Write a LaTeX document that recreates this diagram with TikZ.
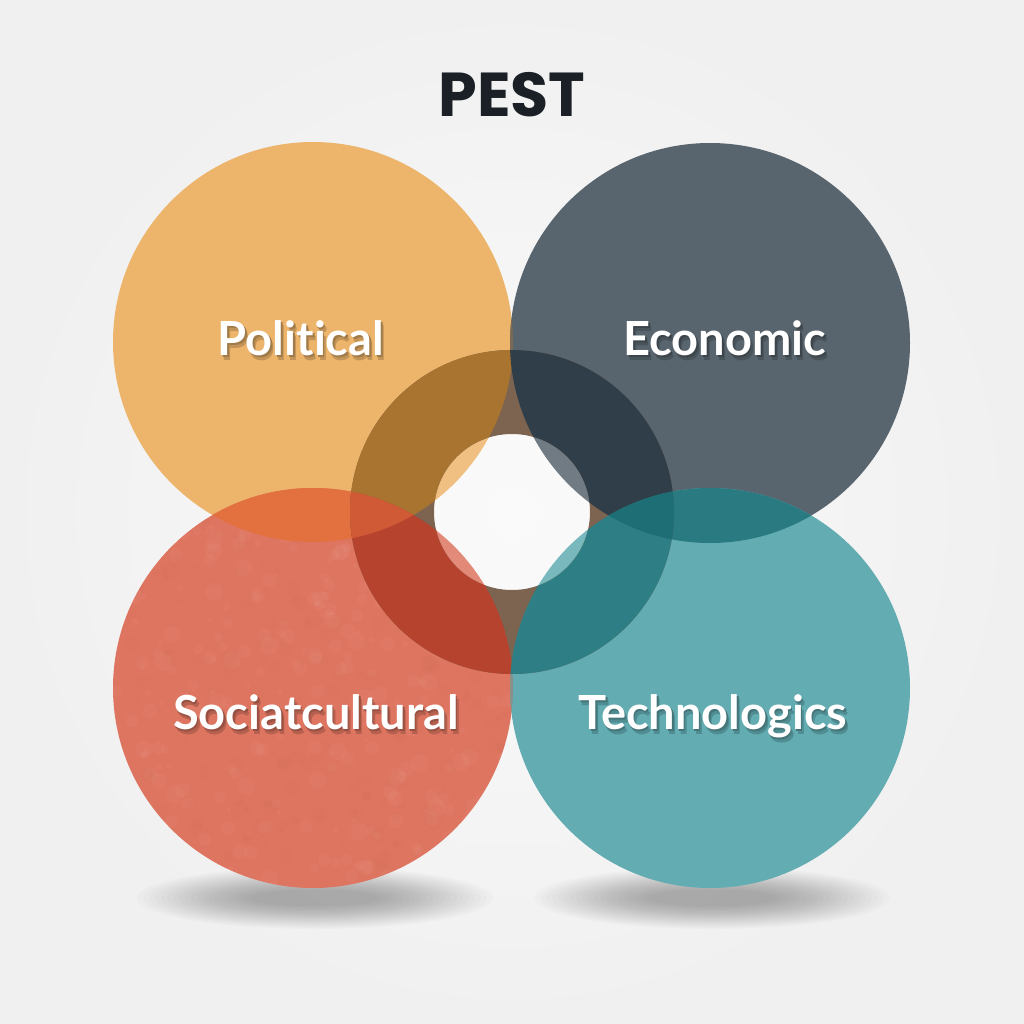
\documentclass[tikz,border=0pt]{standalone}
\usepackage{fontspec}
\newfontfamily\labelfont[Ligatures=NoCommon]{Lato}
\newfontfamily\titlefont{Poppins}
\definecolor{bgin}{HTML}{FAFAFA}
\definecolor{bgout}{HTML}{F0F0F0}
\definecolor{titlec}{HTML}{1B2026}
\definecolor{polc}{HTML}{EDB56B}
\definecolor{ecoc}{HTML}{59656E}
\definecolor{socc}{HTML}{DE7560}
\definecolor{tecc}{HTML}{62ACB2}
\definecolor{psc}{HTML}{E3703F}
\definecolor{etc}{HTML}{2A7A82}
\definecolor{pec}{HTML}{7A6A55}
\definecolor{stc}{HTML}{8C8F88}
\definecolor{ringbg}{HTML}{7D6450}
\definecolor{ringpol}{HTML}{A8742F}
\definecolor{ringeco}{HTML}{2F3E48}
\definecolor{ringsoc}{HTML}{B5432E}
\definecolor{ringtec}{HTML}{2E7E85}
\definecolor{ringps}{HTML}{CF5A35}
\definecolor{ringet}{HTML}{1E6E75}
\tikzset{
  lbl/.style={font=\labelfont\bfseries\fontsize{47}{47}\selectfont, text=white, anchor=base, inner sep=0pt},
  titlestyle/.style={font=\titlefont\bfseries\fontsize{62}{62}\selectfont, text=titlec, inner sep=0pt},
  blot/.style={opacity=0.035},
}
\def\polc{(313,342) circle (200pt)}
\def\ecoc{(710,343) circle (200pt)}
\def\socc{(313,688) circle (200pt)}
\def\tecc{(710,688) circle (200pt)}
\def\ringp{(512,512) circle (162pt) (512,512) circle (78pt)}
\newcommand\shtext[2]{%
  \rlap{\hspace{3pt}\raisebox{-5.5pt}{\color{#1!82!black}#2}}%
  \rlap{\hspace{1.5pt}\raisebox{-2.5pt}{\color{#1!68!black}#2}}%
  #2}
\begin{document}
\begin{tikzpicture}[x=1pt, y=-1pt]
\useasboundingbox (0,0) rectangle (1024,1024);
\shade[inner color=bgin, outer color=bgout] (0,0) rectangle (1024,1024);
% soft shadows
\foreach \i in {0,...,19} {
  \pgfmathsetmacro\rx{178-\i*6}
  \pgfmathsetmacro\ry{31-\i*1.2}
  \fill[black, opacity=0.014] (315,898) ellipse (\rx pt and \ry pt);
  \fill[black, opacity=0.014] (712,898) ellipse (\rx pt and \ry pt);
}
% circles
\fill[polc] \polc;
\fill[ecoc] \ecoc;
\fill[socc] \socc;
\fill[tecc] \tecc;
% subtle mottled texture on the sociocultural circle
\begin{scope}
  \clip \socc;
  \pgfmathsetseed{42}
  \foreach \k in {1,...,600} {
    \pgfmathsetmacro\px{113+400*rnd}
    \pgfmathsetmacro\py{488+400*rnd}
    \pgfmathsetmacro\pr{2+7*rnd}
    \ifodd\k
      \fill[white, blot] (\px,\py) circle (\pr pt);
    \else
      \fill[socc!85!black, blot] (\px,\py) circle (\pr pt);
    \fi
  }
\end{scope}
% circle overlaps
\begin{scope}\clip \polc; \fill[psc] \socc; \end{scope}
\begin{scope}\clip \ecoc; \fill[etc] \tecc; \end{scope}
\begin{scope}\clip \polc; \fill[pec] \ecoc; \end{scope}
\begin{scope}\clip \socc; \fill[stc] \tecc; \end{scope}
% ring
\fill[ringbg, even odd rule] \ringp;
\begin{scope}\clip \polc; \fill[ringpol, even odd rule] \ringp; \end{scope}
\begin{scope}\clip \ecoc; \fill[ringeco, even odd rule] \ringp; \end{scope}
\begin{scope}\clip \socc; \fill[ringsoc, even odd rule] \ringp; \end{scope}
\begin{scope}\clip \tecc; \fill[ringtec, even odd rule] \ringp; \end{scope}
\begin{scope}\clip \polc; \clip \socc; \fill[ringps, even odd rule] \ringp; \end{scope}
\begin{scope}\clip \ecoc; \clip \tecc; \fill[ringet, even odd rule] \ringp; \end{scope}
% hole highlight
\fill[white, opacity=0.15] (512,512) circle (78pt);
% title
\node[titlestyle] (title) at (512,95) {PEST};
% labels
\node[lbl] (political) at (301,355) {\shtext{polc}{Political}};
\node[lbl] (economic) at (725,355) {\shtext{ecoc}{Economic}};
\node[lbl] (socio) at (316,729) {\shtext{socc}{Sociatcultural}};
\node[lbl] (techno) at (713,729) {\shtext{tecc}{Technologics}};
\end{tikzpicture}
\end{document}
